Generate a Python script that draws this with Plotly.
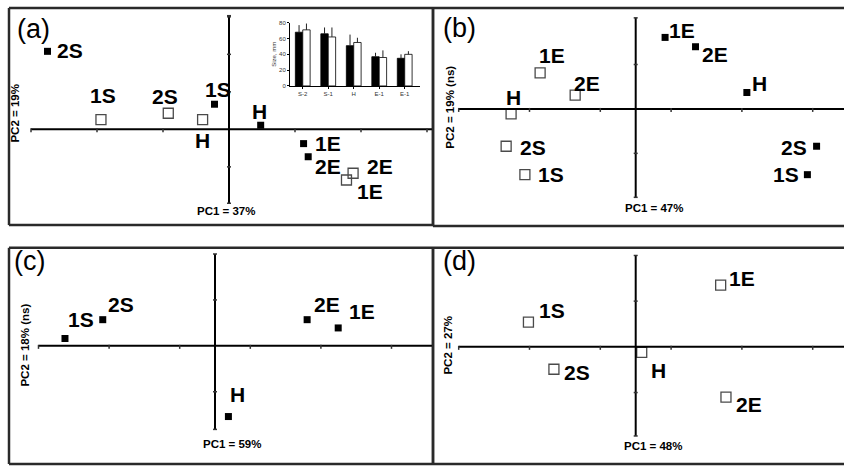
import plotly.graph_objects as go

W, H = 844, 468

# ---------------- data (PCA scores) ----------------
# Panel (a)
a_fill_lab = ["2S", "1S", "H", "1E", "2E"]
a_fill_pc1 = [-2.75, -0.22, 0.48, 1.13, 1.20]
a_fill_pc2 = [2.08, 0.67, 0.11, -0.38, -0.73]
a_open_lab = ["1S", "2S", "H", "2E", "1E"]
a_open_pc1 = [-1.94, -0.92, -0.40, 1.88, 1.78]
a_open_pc2 = [0.26, 0.43, 0.26, -1.17, -1.35]

# Panel (b)
b_fill_lab = ["1E", "2E", "H", "2S", "1S"]
b_fill_pc1 = [0.83, 1.69, 3.14, 5.11, 4.85]
b_fill_pc2 = [1.61, 1.40, 0.37, -0.84, -1.48]
b_open_lab = ["1E", "2E", "H", "2S", "1S"]
b_open_pc1 = [-2.70, -1.71, -3.52, -3.66, -3.13]
b_open_pc2 = [0.81, 0.31, -0.11, -0.84, -1.48]

# Panel (c)
c_fill_lab = ["1S", "2S", "2E", "1E", "H"]
c_fill_pc1 = [-4.25, -3.18, 2.61, 3.49, 0.38]
c_fill_pc2 = [0.16, 0.57, 0.57, 0.39, -1.54]
c_open_lab = []
c_open_pc1 = []
c_open_pc2 = []

# Panel (d)
d_fill_lab = []
d_fill_pc1 = []
d_fill_pc2 = []
d_open_lab = ["1S", "2S", "H", "1E", "2E"]
d_open_pc1 = [-3.03, -2.31, 0.17, 2.40, 2.55]
d_open_pc2 = [0.54, -0.49, -0.12, 1.35, -1.10]

# Inset bar chart of panel (a)
inset_cats = ["S-2", "S-1", "H", "E-1", "E-1"]
inset_black = [68, 66, 51, 37, 35]
inset_black_err = [9, 8, 14, 5, 5]
inset_white = [71, 62, 55, 36, 40]
inset_white_err = [8, 12, 6, 9, 4]

panel_titles = ["(a)", "(b)", "(c)", "(d)"]
pc1_labels = ["PC1 = 37%", "PC1 = 47%", "PC1 = 59%", "PC1 = 48%"]
pc2_labels = ["PC2 = 19%", "PC2 = 19% (ns)", "PC2 = 18% (ns)", "PC2 = 27%"]

# ---------------- layout / style ----------------
# label offsets (pixels) for each point label
a_fill_off = [(22, 1), (4, 15), (-1, 14), (24, 0), (20, -10)]
a_open_off = [(2, 24), (-3, 17), (0, -21), (27, 7), (24, -11)]
b_fill_off = [(17, 7), (19, -8), (13, 9), (-23, -1), (-21, 0)]
b_open_off = [(12, 17), (12, 12), (2, 16), (27, -1), (26, 0)]
c_fill_off = [(16, 19), (18, 15), (20, 15), (24, 16), (9, 22)]
c_open_off = []
d_fill_off = []
d_open_off = [(24, 12), (23, -3), (17, -18), (21, 7), (23, -7)]

panels = [
    dict(box=(9, 5, 433, 225), origin=(229, 128), unit=(66, 38),
         vext=(-1.97, 3.03), hstart=-3, xt=[-3, -2, -1, 1, 2, 3], yt=[-1, 1, 2, 3],
         fill=(a_fill_lab, a_fill_pc1, a_fill_pc2, a_fill_off),
         opn=(a_open_lab, a_open_pc1, a_open_pc2, a_open_off),
         title_xy=(33, 26), pc1_xy=(227, 211), pc2_xy=(15, 112)),
    dict(box=(433, 5, 844, 226), origin=(635.7, 107.3), unit=(35.4, 45),
         vext=(-1.99, 2.05), hstart=-5, xt=[-5, -3, -1, 1, 3, 5], yt=[-1, 1],
         fill=(b_fill_lab, b_fill_pc1, b_fill_pc2, b_fill_off),
         opn=(b_open_lab, b_open_pc1, b_open_pc2, b_open_off),
         title_xy=(459, 25), pc1_xy=(654, 208), pc2_xy=(450, 106)),
    dict(box=(9, 248, 433, 467), origin=(215, 347.3), unit=(35.3, 46.5),
         vext=(-1.82, 2.0), hstart=-5, xt=[-5, -3, -1, 1, 3, 5], yt=[-1, 1],
         fill=(c_fill_lab, c_fill_pc1, c_fill_pc2, c_fill_off),
         opn=(c_open_lab, c_open_pc1, c_open_pc2, c_open_off),
         title_xy=(29, 261), pc1_xy=(232, 447), pc2_xy=(25, 347)),
    dict(box=(433, 248, 844, 467), origin=(635.7, 348.3), unit=(35.4, 46.3),
         vext=(-1.95, 2.0), hstart=-5, xt=[-5, -3, -1, 1, 3, 5], yt=[-1, 1],
         fill=(d_fill_lab, d_fill_pc1, d_fill_pc2, d_fill_off),
         opn=(d_open_lab, d_open_pc1, d_open_pc2, d_open_off),
         title_xy=(459, 261), pc1_xy=(653, 449), pc2_xy=(448, 347)),
]

FONT = "Liberation Sans, Arial, sans-serif"


def pxx(x):
    return x / W


def pyy(y):
    return 1 - y / H


fig = go.Figure()
shapes = []
annotations = []
layout_axes = {}

frame_line = dict(color="#2a2a2a", width=2.5)

for i, p in enumerate(panels, start=1):
    xa = "x" if i == 1 else f"x{i}"
    ya = "y" if i == 1 else f"y{i}"
    x0, y0, x1, y1 = p["box"]
    ox, oy = p["origin"]
    ux, uy = p["unit"]
    xr = [(x0 - ox) / ux, (x1 - ox) / ux]
    yr = [(oy - y1) / uy, (oy - y0) / uy]
    layout_axes["xaxis" if i == 1 else f"xaxis{i}"] = dict(
        domain=[pxx(x0), pxx(x1)], range=xr, visible=False, fixedrange=True,
        anchor=ya)
    layout_axes["yaxis" if i == 1 else f"yaxis{i}"] = dict(
        domain=[pyy(y1), pyy(y0)], range=yr, visible=False, fixedrange=True,
        anchor=xa)

    # panel frame (the right edge of the right-hand panels is cut off)
    fx0, fx1, fy0, fy1 = pxx(x0), pxx(x1), pyy(y1), pyy(y0)
    sides = [(fx0, fy1, fx1, fy1), (fx0, fy0, fx1, fy0), (fx0, fy0, fx0, fy1)]
    if x1 < W:
        sides.append((fx1, fy0, fx1, fy1))
    for sx0, sy0, sx1, sy1 in sides:
        shapes.append(dict(type="line", xref="paper", yref="paper",
                           x0=sx0, y0=sy0, x1=sx1, y1=sy1,
                           line=frame_line, layer="above"))
    # cross axes
    shapes.append(dict(type="line", xref=xa, yref=ya, x0=p["hstart"], x1=xr[1],
                       y0=0, y1=0, line=dict(color="black", width=2)))
    shapes.append(dict(type="line", xref=xa, yref=ya, x0=0, x1=0,
                       y0=p["vext"][0], y1=p["vext"][1],
                       line=dict(color="black", width=2)))
    for t in p["xt"]:
        shapes.append(dict(type="line", xref=xa, yref=ya, x0=t, x1=t,
                           ysizemode="pixel", yanchor=0, y0=-3, y1=1,
                           line=dict(color="#333", width=1.5)))
    for t in p["yt"] + [p["vext"][0], p["vext"][1]]:
        shapes.append(dict(type="line", xref=xa, yref=ya, y0=t, y1=t,
                           xsizemode="pixel", xanchor=0, x0=-2, x1=2,
                           line=dict(color="#333", width=1.5)))

    # points
    fl, fx, fy, foff = p["fill"]
    ol, ox_, oy_, ooff = p["opn"]
    if fx:
        fig.add_trace(go.Scatter(x=fx, y=fy, mode="markers", xaxis=xa, yaxis=ya,
                                 marker=dict(symbol="square", size=7, color="black"),
                                 showlegend=False, hoverinfo="skip"))
    if ox_:
        fig.add_trace(go.Scatter(x=ox_, y=oy_, mode="markers", xaxis=xa, yaxis=ya,
                                 marker=dict(symbol="square-open", size=10, color="#4a4a4a",
                                             line=dict(width=1.3)),
                                 showlegend=False, hoverinfo="skip"))
    for labs, xs, ys, offs in ((fl, fx, fy, foff), (ol, ox_, oy_, ooff)):
        for lab, xv, yv, (dx, dy) in zip(labs, xs, ys, offs):
            annotations.append(dict(text=lab, x=xv, y=yv, xref=xa, yref=ya,
                                    xshift=dx, yshift=dy, showarrow=False,
                                    xanchor="center", yanchor="middle",
                                    font=dict(family=FONT, size=21, color="black",
                                              weight="bold")))

    # titles and axis labels
    tx, ty = p["title_xy"]
    annotations.append(dict(text=panel_titles[i - 1], x=pxx(tx), y=pyy(ty),
                            xref="paper", yref="paper", showarrow=False,
                            xanchor="center", yanchor="middle",
                            font=dict(family=FONT, size=27, color="black")))
    cx, cy = p["pc1_xy"]
    annotations.append(dict(text=pc1_labels[i - 1], x=pxx(cx), y=pyy(cy),
                            xref="paper", yref="paper", showarrow=False,
                            xanchor="center", yanchor="middle",
                            font=dict(family=FONT, size=11.5, color="black",
                                      weight="bold")))
    cx, cy = p["pc2_xy"]
    annotations.append(dict(text=pc2_labels[i - 1], x=pxx(cx), y=pyy(cy),
                            xref="paper", yref="paper", showarrow=False,
                            textangle=-90, xanchor="center", yanchor="middle",
                            font=dict(family=FONT, size=11.5, color="black",
                                      weight="bold")))

# ---------------- inset bar chart ----------------
idx = list(range(len(inset_cats)))
fig.add_trace(go.Bar(x=idx, y=inset_black, xaxis="x5", yaxis="y5",
                     marker=dict(color="black", line=dict(color="black", width=0.8)),
                     error_y=dict(type="data", array=inset_black_err, symmetric=False,
                                  arrayminus=[0] * len(idx), color="#222",
                                  thickness=1, width=0),
                     showlegend=False, hoverinfo="skip"))
fig.add_trace(go.Bar(x=idx, y=inset_white, xaxis="x5", yaxis="y5",
                     marker=dict(color="white", line=dict(color="black", width=0.8)),
                     error_y=dict(type="data", array=inset_white_err, symmetric=False,
                                  arrayminus=[0] * len(idx), color="#222",
                                  thickness=1, width=0),
                     showlegend=False, hoverinfo="skip"))
layout_axes["xaxis5"] = dict(domain=[pxx(290), pxx(420)], anchor="y5", range=[-0.5, 4.6],
                             tickvals=idx, ticktext=inset_cats, showline=True,
                             linecolor="black", linewidth=1, ticks="outside",
                             ticklen=2, tickcolor="black", showgrid=False,
                             zeroline=False, fixedrange=True,
                             tickfont=dict(family=FONT, size=6, color="#333"))
layout_axes["yaxis5"] = dict(domain=[pyy(84), pyy(20)], anchor="x5", range=[0, 80],
                             tickvals=[0, 20, 40, 60, 80], showline=True,
                             linecolor="black", linewidth=1, ticks="outside",
                             ticklen=2, tickcolor="black", showgrid=False,
                             zeroline=False, fixedrange=True,
                             title=dict(text="Size, mm", standoff=2,
                                        font=dict(family=FONT, size=6, color="#333")),
                             tickfont=dict(family=FONT, size=6, color="#333"))

fig.update_layout(
    width=W, height=H,
    margin=dict(l=0, r=0, t=0, b=0),
    paper_bgcolor="white", plot_bgcolor="rgba(0,0,0,0)",
    barmode="group", bargap=0.42, bargroupgap=0.0,
    shapes=shapes, annotations=annotations,
    showlegend=False,
    **layout_axes,
)

fig.write_html(
    "out.html",
    config={"displayModeBar": False, "staticPlot": True},
    post_script="document.body.style.margin='0';document.body.style.overflow='hidden';",
)
